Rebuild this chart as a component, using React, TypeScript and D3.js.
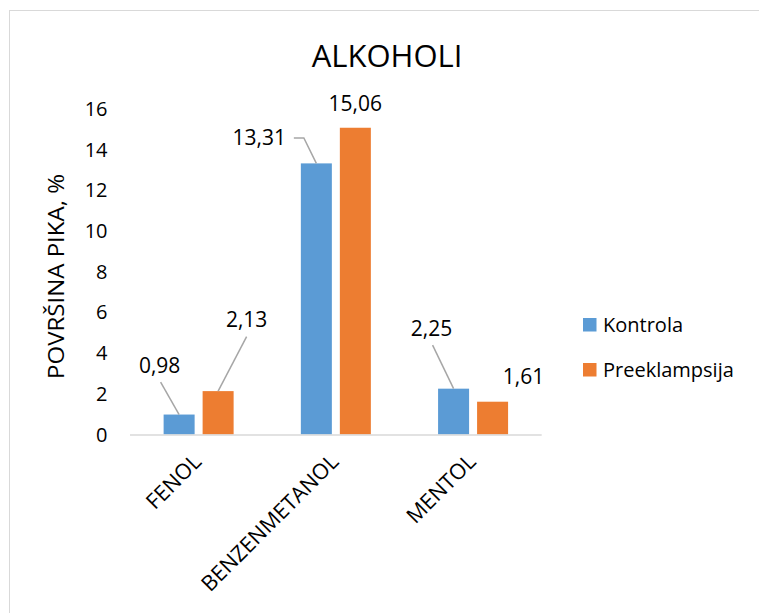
import React from "react";
import * as d3 from "d3";

const categories = ["FENOL", "BENZENMETANOL", "MENTOL"];
const seriesNames = ["Kontrola", "Preeklampsija"];
const kontrola = [0.98, 13.31, 2.25];
const preeklampsija = [2.13, 15.06, 1.61];
const yTicks = [0, 2, 4, 6, 8, 10, 12, 14, 16];
const title = "ALKOHOLI";
const yTitle = "POVRŠINA PIKA, %";

const colors = ["#5B9BD5", "#ED7D31"];
const FONT = "'Open Sans', sans-serif";

// label layout: offset of label centre from bar-top centre
const labelLayout = [
  [
    { dx: -19.5, dy: -49.5, line: true },
    { dx: 28.5, dy: -71.5, line: true },
  ],
  [
    { dx: -57, dy: -25.5, line: true, elbow: true },
    { dx: 0, dy: -24.5, line: false },
  ],
  [
    { dx: -22, dy: -60.5, line: true },
    { dx: 31, dy: -25, line: false },
  ],
];

const fmt = (v: number) => v.toFixed(2).replace(".", ",");

export default function App() {
  const W = 759;
  const H = 613;
  const x0 = d3.scaleBand<string>().domain(categories).range([130, 541.7]).padding(0);
  const groupW = 70;
  const x1 = d3.scaleBand<string>().domain(seriesNames).range([0, groupW]).paddingInner(0.205);
  const y = d3.scaleLinear().domain([0, 16]).range([434.5, 108.6]);
  const series = [kontrola, preeklampsija];

  return (
    <svg width={W} height={H} style={{ position: "absolute", left: 0, top: 0 }} fontFamily={FONT}>
      <rect x={0} y={0} width={W} height={H} fill="#fff" />
      <rect x={9.5} y={10.5} width={W + 10} height={H + 10} fill="none" stroke="#D9D9D9" strokeWidth={1} />
      <text x={387} y={67} textAnchor="middle" fontSize={31} fill="#000">{title}</text>

      {yTicks.map((t) => (
        <text key={t} x={107.5} y={y(t)} dy="0.36em" textAnchor="end" fontSize={20} fill="#000">
          {t}
        </text>
      ))}
      <text
        transform={`translate(64, ${(173 + 380) / 2}) rotate(-90)`}
        textAnchor="middle"
        fontSize={21.5}
        textLength={205}
        lengthAdjust="spacingAndGlyphs"
        fill="#000"
      >
        {yTitle}
      </text>

      {categories.map((c, ci) =>
        series.map((s, si) => {
          const bx = (x0(c) as number) + (x0.bandwidth() - groupW) / 2 + (x1(seriesNames[si]) as number);
          return (
            <rect
              key={`${ci}-${si}`}
              x={bx}
              y={y(s[ci])}
              width={x1.bandwidth()}
              height={y(0) - y(s[ci])}
              fill={colors[si]}
            />
          );
        })
      )}

      <line x1={130} x2={541.7} y1={435} y2={435} stroke="#D9D9D9" strokeWidth={1.5} />

      {categories.map((c, ci) =>
        series.map((s, si) => {
          const bx = (x0(c) as number) + (x0.bandwidth() - groupW) / 2 + (x1(seriesNames[si]) as number);
          const cx = bx + x1.bandwidth() / 2;
          const top = y(s[ci]);
          const L = labelLayout[ci][si];
          const lx = cx + L.dx;
          const ly = top + L.dy;
          let path = null;
          if (L.line) {
            const p = d3.path();
            if ((L as any).elbow) {
              p.moveTo(lx + 34.5, ly);
              p.lineTo(lx + 44.5, ly);
              p.lineTo(cx, top);
            } else {
              p.moveTo(lx + (cx > lx ? 1 : 0), ly + 17);
              p.lineTo(cx, top);
            }
            path = <path d={p.toString()} fill="none" stroke="#A6A6A6" strokeWidth={1.5} />;
          }
          return (
            <g key={`l${ci}-${si}`}>
              {path}
              <text x={lx} y={ly} dy="0.36em" textAnchor="middle" fontSize={21} fill="#000">
                {fmt(s[ci])}
              </text>
            </g>
          );
        })
      )}

      {categories.map((c) => {
        const cx = (x0(c) as number) + x0.bandwidth() / 2;
        return (
          <text
            key={c}
            transform={`translate(${cx + 4}, 463) rotate(-45)`}
            textAnchor="end"
            fontSize={21.5}
            fill="#000"
          >
            {c}
          </text>
        );
      })}

      {seriesNames.map((n, i) => (
        <g key={n}>
          <rect x={583} y={318 + i * 45} width={13.5} height={13.5} fill={colors[i]} />
          <text x={603} y={325 + i * 45} dy="0.36em" fontSize={20} fill="#000">
            {n}
          </text>
        </g>
      ))}
    </svg>
  );
}
